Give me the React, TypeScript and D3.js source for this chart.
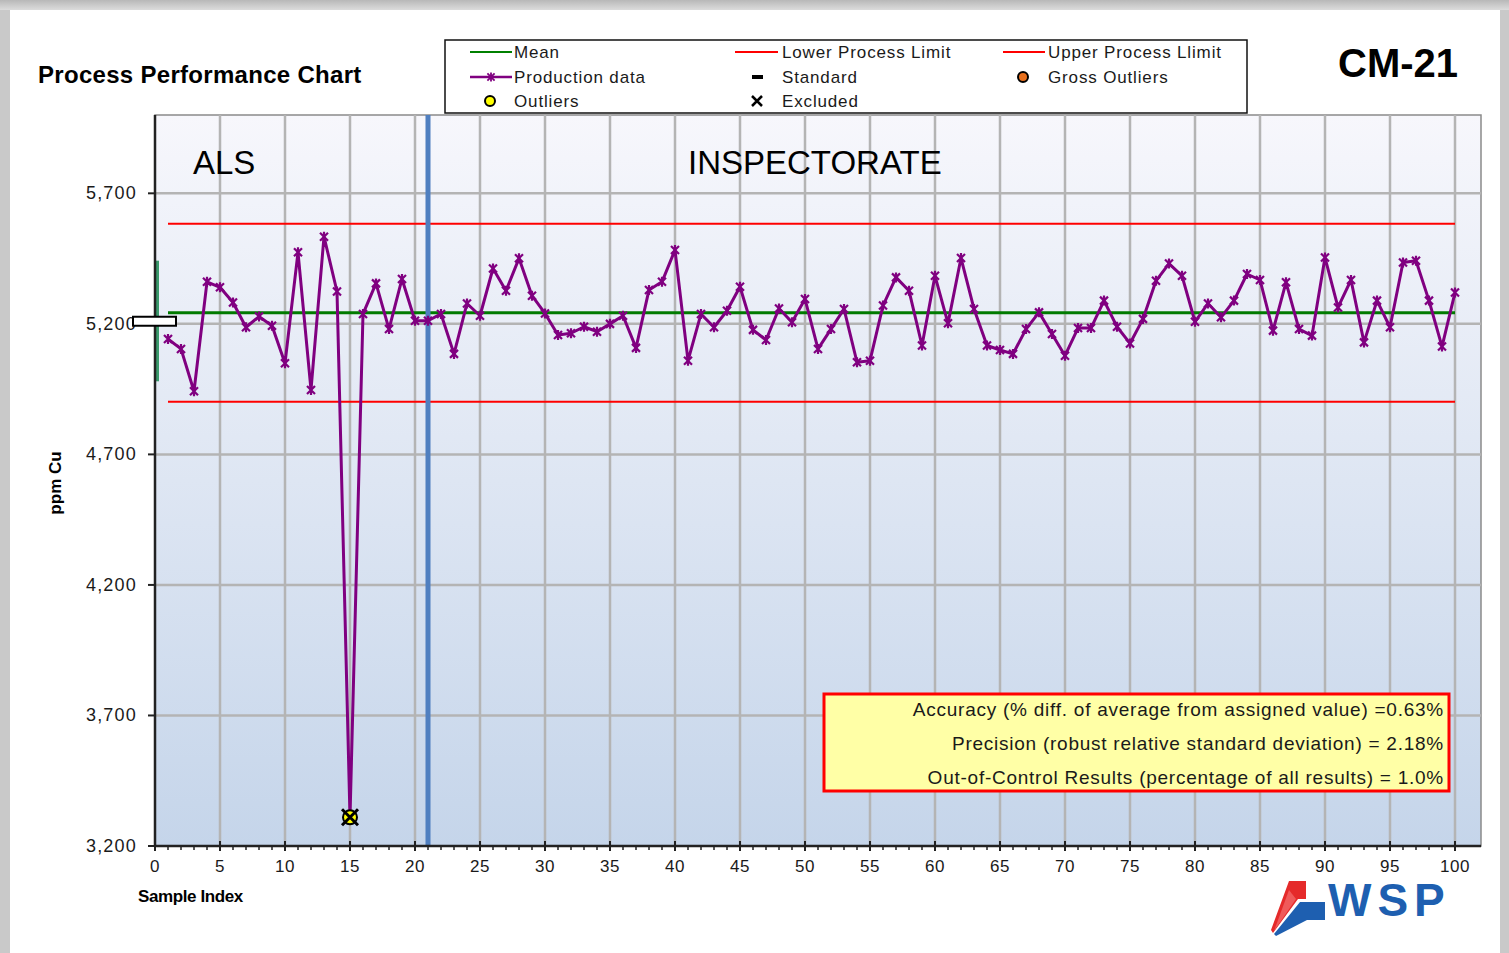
import React from "react";
import * as d3 from "d3";

// ---------- data ----------
const VALUES: number[] = [
  5142, 5104, 4942, 5361, 5340, 5282, 5187, 5228, 5193, 5049,
  5474, 4947, 5534, 5324, 3310, 5238, 5355, 5180, 5372, 5212,
  5212, 5238, 5085, 5278, 5231, 5412, 5327, 5451, 5308, 5240,
  5157, 5164, 5189, 5170, 5200, 5231, 5108, 5330, 5361, 5483,
  5059, 5238, 5187, 5250, 5342, 5177, 5138, 5259, 5206, 5295,
  5104, 5180, 5257, 5053, 5059, 5270, 5378, 5327, 5117, 5384,
  5202, 5452, 5257, 5117, 5100, 5085, 5180, 5244, 5161, 5078,
  5184, 5184, 5289, 5189, 5125, 5219, 5365, 5431, 5384, 5208,
  5278, 5225, 5289, 5391, 5368, 5174, 5359, 5180, 5155, 5454,
  5263, 5368, 5129, 5289, 5187, 5435, 5442, 5289, 5113, 5320,
];
const MEAN = 5243;
const LOWER_LIMIT = 4902;
const UPPER_LIMIT = 5583;
const STANDARD = 5210;
const STANDARD_RANGE = [4980, 5442];
const OUTLIER_IDX = [15];
const EXCLUDED_IDX = [15];
const LAB_SPLIT = 21;
const Y_TICKS = [3200, 3700, 4200, 4700, 5200, 5700];
const X_TICKS = d3.range(0, 101, 5);
const X_MINOR = d3.range(0, 101, 1);
const STATS = [
  "Accuracy (% diff. of average from assigned value) =0.63%",
  "Precision (robust relative standard deviation) = 2.18%",
  "Out-of-Control Results (percentage of all results) = 1.0%",
];

const FONT = "'Liberation Sans', Arial, sans-serif";

export default function App() {
  const W = 1509, H = 953;
  const x = d3.scaleLinear().domain([0, 102]).range([155, 1481]);
  const y = d3.scaleLinear().domain([3200, 6000]).range([846, 115]);
  const pts = VALUES.map((v, i) => [x(i + 1), y(v)] as [number, number]);
  const line = d3.line()(pts) || "";
  const fmt = (v: number) => d3.format(",")(v);
  const star = "M-4,-4L4,4M-4,4L4,-4M0,-5L0,5";

  const legendText = { fontFamily: FONT, fontSize: 17, letterSpacing: 0.85, fill: "#1a1a1a" } as any;

  return (
    <div style={{ position: "absolute", left: 0, top: 0, width: W, height: H, overflow: "hidden" }}>
      <svg width={W} height={H} style={{ display: "block" }}>
        <defs>
          <linearGradient id="plotbg" x1="0" y1="0" x2="0" y2="1">
            <stop offset="0" stopColor="#f7f7fc" />
            <stop offset="1" stopColor="#c5d5ea" />
          </linearGradient>
          <linearGradient id="frameTop" x1="0" y1="0" x2="0" y2="1">
            <stop offset="0" stopColor="#b8b8b8" />
            <stop offset="1" stopColor="#dcdcdc" />
          </linearGradient>
        </defs>
        {/* frame */}
        <rect x={0} y={0} width={W} height={H} fill="#c9c9c9" />
        <rect x={0} y={0} width={W} height={10} fill="url(#frameTop)" />
        <rect x={10} y={10} width={1490} height={H - 10} fill="#ffffff" />

        {/* titles */}
        <text x={38} y={83} fontFamily={FONT} fontWeight="bold" fontSize={24} letterSpacing={0.3} fill="#000">Process Performance Chart</text>
        <text x={1338} y={77} fontFamily={FONT} fontWeight="bold" fontSize={40} fill="#000">CM-21</text>

        {/* legend */}
        <rect x={445} y={40} width={802} height={73} fill="#fff" stroke="#111" strokeWidth={1.5} />
        <line x1={470} x2={512} y1={52} y2={52} stroke="#008000" strokeWidth={2} />
        <text x={514} y={58} {...legendText}>Mean</text>
        <line x1={470} x2={512} y1={77} y2={77} stroke="#800080" strokeWidth={2.5} />
        <path d={star} transform="translate(491,77) scale(0.9)" stroke="#800080" strokeWidth={2} fill="none" />
        <text x={514} y={83} {...legendText}>Production data</text>
        <circle cx={490} cy={101} r={5} fill="#ffff00" stroke="#000" strokeWidth={2} />
        <text x={514} y={107} {...legendText}>Outliers</text>

        <line x1={735} x2={778} y1={52} y2={52} stroke="#ff0000" strokeWidth={2} />
        <text x={782} y={58} {...legendText}>Lower Process Limit</text>
        <rect x={752} y={75} width={11} height={4} fill="#000" />
        <text x={782} y={83} {...legendText}>Standard</text>
        <path d="M-5,-5L5,5M-5,5L5,-5" transform="translate(757,101)" stroke="#000" strokeWidth={2.5} />
        <text x={782} y={107} {...legendText}>Excluded</text>

        <line x1={1003} x2={1045} y1={52} y2={52} stroke="#ff0000" strokeWidth={2} />
        <text x={1048} y={58} {...legendText}>Upper Process Llimit</text>
        <circle cx={1023} cy={77} r={5} fill="#e8701e" stroke="#000" strokeWidth={2} />
        <text x={1048} y={83} {...legendText}>Gross Outliers</text>

        {/* plot area */}
        <rect x={x(0)} y={y(6000)} width={x(102) - x(0)} height={y(3200) - y(6000)} fill="url(#plotbg)" stroke="#8a8a8a" strokeWidth={1.5} />
        {X_TICKS.filter((t) => t > 0).map((t) => (
          <line key={"gx" + t} x1={x(t)} x2={x(t)} y1={y(6000)} y2={y(3200)} stroke="#b4b4b4" strokeWidth={2.5} />
        ))}
        {Y_TICKS.filter((t) => t > 3200).map((t) => (
          <line key={"gy" + t} x1={x(0)} x2={x(102)} y1={y(t)} y2={y(t)} stroke="#b4b4b4" strokeWidth={2.5} />
        ))}

        {/* limits and mean */}
        <line x1={x(1)} x2={x(100)} y1={y(UPPER_LIMIT)} y2={y(UPPER_LIMIT)} stroke="#ff0000" strokeWidth={2} />
        <line x1={x(1)} x2={x(100)} y1={y(LOWER_LIMIT)} y2={y(LOWER_LIMIT)} stroke="#ff0000" strokeWidth={2} />
        <line x1={x(1)} x2={x(100)} y1={y(MEAN)} y2={y(MEAN)} stroke="#007a00" strokeWidth={3} />

        {/* lab split */}
        <line x1={x(LAB_SPLIT)} x2={x(LAB_SPLIT)} y1={y(6000)} y2={y(3200)} stroke="#4f7fc0" strokeWidth={5} />
        <text x={193} y={174} fontFamily={FONT} fontSize={33} fill="#000">ALS</text>
        <text x={688} y={174} fontFamily={FONT} fontSize={33} fill="#000">INSPECTORATE</text>

        {/* production data */}
        <path d={line} fill="none" stroke="#800080" strokeWidth={3} strokeLinejoin="round" />
        {pts.map((p, i) => (
          <path key={"m" + i} d={star} transform={`translate(${p[0]},${p[1]})`} stroke="#800080" strokeWidth={2.2} fill="none" />
        ))}
        {OUTLIER_IDX.map((k) => (
          <circle key={"o" + k} cx={x(k)} cy={y(VALUES[k - 1])} r={7} fill="#ffff00" stroke="#000" strokeWidth={2} />
        ))}
        {EXCLUDED_IDX.map((k) => (
          <path key={"e" + k} d="M-8,-8L8,8M-8,8L8,-8" transform={`translate(${x(k)},${y(VALUES[k - 1])})`} stroke="#000" strokeWidth={3} />
        ))}

        {/* standard */}
        <line x1={x(0) + 2} x2={x(0) + 2} y1={y(STANDARD_RANGE[1])} y2={y(STANDARD_RANGE[0])} stroke="#3a9a6c" strokeWidth={4} />

        {/* axes */}
        <line x1={x(0)} x2={x(0)} y1={y(6000)} y2={y(3200)} stroke="#222" strokeWidth={2.5} />
        <line x1={x(0)} x2={x(102)} y1={y(3200)} y2={y(3200)} stroke="#222" strokeWidth={2.5} />
        {X_MINOR.map((t) => (
          <line key={"xm" + t} x1={x(t)} x2={x(t)} y1={846} y2={850} stroke="#222" strokeWidth={1.5} />
        ))}
        {X_TICKS.map((t) => (
          <line key={"xt" + t} x1={x(t)} x2={x(t)} y1={841} y2={851} stroke="#222" strokeWidth={2} />
        ))}
        {X_TICKS.map((t) => (
          <text key={"xl" + t} x={x(t)} y={872} textAnchor="middle" fontFamily={FONT} fontSize={17} letterSpacing={0.5} fill="#1a1a1a">{t}</text>
        ))}
        {Y_TICKS.map((t) => (
          <g key={"yt" + t}>
            <line x1={148} x2={x(0)} y1={y(t)} y2={y(t)} stroke="#222" strokeWidth={2} />
            <text x={137} y={y(t) + 6} textAnchor="end" fontFamily={FONT} fontSize={18} letterSpacing={1.2} fill="#1a1a1a">{fmt(t)}</text>
          </g>
        ))}
        <rect x={133} y={y(STANDARD) - 4.5} width={43} height={9} fill="#fff" stroke="#000" strokeWidth={2} />

        <text transform="translate(61,483) rotate(-90)" textAnchor="middle" fontFamily={FONT} fontWeight="bold" fontSize={17} fill="#000">ppm Cu</text>
        <text x={138} y={902} fontFamily={FONT} fontWeight="bold" fontSize={17} letterSpacing={-0.4} fill="#000">Sample Index</text>

        {/* stats box */}
        <rect x={824} y={694} width={625} height={97} fill="#ffffa6" stroke="#ff0000" strokeWidth={3} />
        {STATS.map((s, i) => (
          <text key={"s" + i} x={1444} y={716 + i * 34} textAnchor="end" fontFamily={FONT} fontSize={19} letterSpacing={0.75} fill="#1a1a1a">{s}</text>
        ))}

        {/* logo */}
        <g>
          <path d="M1289,881L1306,881L1306,899L1298,899L1273,933L1271,930Z" fill="#e52a2a" />
          <path d="M1289,890L1296,899L1274,931Z" fill="#f05a5a" />
          <path d="M1307,902L1325,902L1325,920L1307,920L1276,936L1274,934L1300,902Z" fill="#1e5fb0" />
          <text x={1328} y={916} fontFamily={FONT} fontWeight="bold" fontSize={46} letterSpacing={6} fill="#1e5fb0">WSP</text>
        </g>
      </svg>
    </div>
  );
}
